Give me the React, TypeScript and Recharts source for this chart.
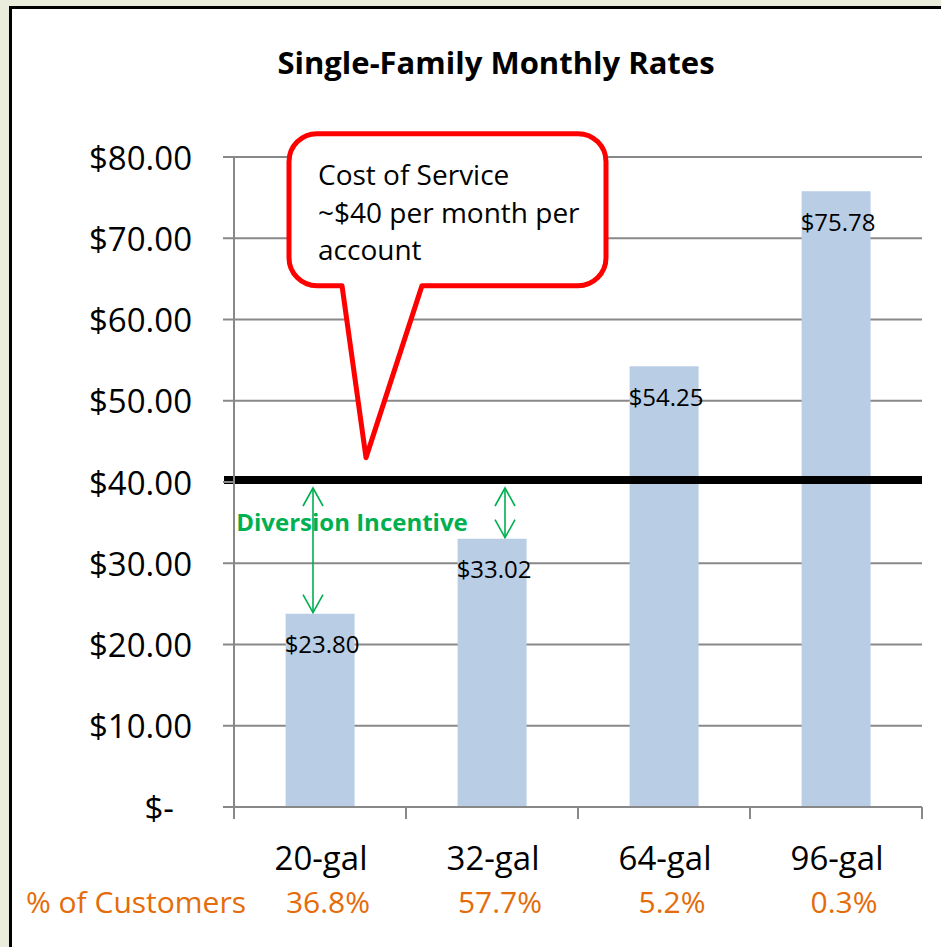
import React from 'react';
import { BarChart, Bar, XAxis, YAxis, CartesianGrid, ReferenceLine, ReferenceDot, LabelList } from 'recharts';

const categories = ['20-gal', '32-gal', '64-gal', '96-gal'];
const rates = [23.8, 33.02, 54.25, 75.78];
const rateLabels = ['$23.80', '$33.02', '$54.25', '$75.78'];
const customerShare = ['36.8%', '57.7%', '5.2%', '0.3%'];
const yTicks = [0, 10, 20, 30, 40, 50, 60, 70, 80];
const yTickLabels = ['$-', '$10.00', '$20.00', '$30.00', '$40.00', '$50.00', '$60.00', '$70.00', '$80.00'];
const costOfService = 40;
const calloutTipValue = 43;
const incentiveLabelValue = 35.2;
const calloutLines = ['Cost of Service', '~$40 per month per', 'account'];

const data = categories.map((c, i) => ({ name: c, rate: rates[i], label: rateLabels[i], share: customerShare[i] }));

const FONT = '"Open Sans", sans-serif';
const GRID = '#888888';
const GREEN = '#00B050';
const ORANGE = '#E46C0A';

const YTick = (p: any) => {
  const idx = yTicks.indexOf(p.payload.value);
  const txt = yTickLabels[idx];
  const dx = p.payload.value === 0 ? -18 : 0;
  return (
    <text x={p.x + dx} y={p.y} textAnchor="end" dominantBaseline="central" fontSize={33} fontFamily={FONT} fill="#000">
      {txt}
    </text>
  );
};

const XTick = (p: any) => {
  const i = p.payload.index ?? categories.indexOf(p.payload.value);
  const half = p.payload.offset ? p.payload.offset : p.width / categories.length / 2;
  const x = p.x;
  const y = p.y;
  return (
    <g>
      <line x1={x - half} y1={y} x2={x - half} y2={y + 12} stroke={GRID} strokeWidth={2} />
      {i === categories.length - 1 && <line x1={x + half} y1={y} x2={x + half} y2={y + 12} stroke={GRID} strokeWidth={2} />}
      <text x={x + 1} y={y + 50} textAnchor="middle" dominantBaseline="central" fontSize={33} fontFamily={FONT} fill="#000">
        {p.payload.value}
      </text>
      <text x={x + 8} y={y + 94} textAnchor="middle" dominantBaseline="central" fontSize={30} fontFamily={FONT} fill={ORANGE}>
        {customerShare[i]}
      </text>
      {i === 0 && (
        <text x={x - half + 12} y={y + 94} textAnchor="end" dominantBaseline="central" fontSize={30} fontFamily={FONT} fill={ORANGE}>
          % of Customers
        </text>
      )}
    </g>
  );
};

const BarValue = (p: any) => {
  const { x, y, width, index } = p;
  return (
    <text x={x + width / 2 + 2} y={y + 30} textAnchor="middle" dominantBaseline="central" fontSize={24} fontFamily={FONT} fill="#000">
      {rateLabels[index]}
    </text>
  );
};

const arrowNudge = [-7, 13];

const makeArrow = (dx: number) => (p: any) => {
  const x = p.x1 + dx;
  const yTop = Math.min(p.y1, p.y2) + 6;
  const yBot = Math.max(p.y1, p.y2) - 1;
  return (
    <g stroke={GREEN} strokeWidth={1.6} fill="none">
      <line x1={x} y1={yTop} x2={x} y2={yBot} />
      <polyline points={`${x - 10},${yTop + 18} ${x},${yTop} ${x + 10},${yTop + 18}`} />
      <polyline points={`${x - 10},${yBot - 18} ${x},${yBot} ${x + 10},${yBot - 18}`} />
    </g>
  );
};

const CostLine = (p: any) => (
  <line x1={p.x1 - 10} y1={p.y1 - 2} x2={p.x2} y2={p.y2 - 2} stroke="#000" strokeWidth={8} />
);

const Callout = (p: any) => {
  const tx = p.cx + 46;
  const ty = p.cy;
  const L = tx - 77, R = tx + 240, T = ty - 324, B = ty - 172, r = 28;
  const xL = tx - 24, xR = tx + 56;
  const d = `M ${L + r} ${T} H ${R - r} A ${r} ${r} 0 0 1 ${R} ${T + r} V ${B - r} A ${r} ${r} 0 0 1 ${R - r} ${B} H ${xR} L ${tx} ${ty} L ${xL} ${B} H ${L + r} A ${r} ${r} 0 0 1 ${L} ${B - r} V ${T + r} A ${r} ${r} 0 0 1 ${L + r} ${T} Z`;
  const offs = [40, 78, 115];
  return (
    <g>
      <path d={d} fill="#fff" stroke="#FF0000" strokeWidth={5} strokeLinejoin="round" />
      {calloutLines.map((s, i) => (
        <text key={i} x={L + 29} y={T + offs[i]} dominantBaseline="central" fontSize={28} fontFamily={FONT} fill="#000">
          {s}
        </text>
      ))}
    </g>
  );
};

const IncentiveText = (p: any) => (
  <text x={p.cx + 32} y={p.cy} textAnchor="middle" dominantBaseline="central" fontSize={24} fontWeight="bold" fontFamily={FONT} fill={GREEN}>
    Diversion Incentive
  </text>
);

export default function App() {
  return (
    <div style={{ position: 'absolute', left: 0, top: 0, width: 941, height: 947, background: '#EBEDDC', overflow: 'hidden' }}>
      <div style={{ position: 'absolute', left: 9, top: 6, width: 1000, height: 1000, border: '3px solid #000', background: '#fff' }} />
      <div style={{ position: 'absolute', left: 0, top: 0 }}>
        <div style={{ position: 'absolute', left: 0, top: 42, width: 992, textAlign: 'center', fontFamily: FONT, fontWeight: 'bold', fontSize: 31, lineHeight: '40px', color: '#000' }}>
          Single-Family Monthly Rates
        </div>
        <BarChart width={941} height={947} data={data} margin={{ top: 157, right: 19, left: 114, bottom: 40 }} barCategoryGap="30%">
          <CartesianGrid horizontal vertical={false} stroke={GRID} strokeWidth={2} />
          <XAxis dataKey="name" height={100} axisLine={{ stroke: GRID, strokeWidth: 2 }} tickLine={false} tickSize={0} tickMargin={0} tick={<XTick />} interval={0} />
          <YAxis width={120} domain={[0, 80]} ticks={yTicks} interval={0} axisLine={{ stroke: GRID, strokeWidth: 2 }} tickLine={{ stroke: GRID, strokeWidth: 2 }} tickSize={11} tickMargin={31} tick={<YTick />} />
          <Bar dataKey="rate" fill="#B9CDE5" isAnimationActive={false}>
            <LabelList dataKey="label" content={<BarValue />} />
          </Bar>
          <ReferenceLine segment={[{ x: categories[0], y: costOfService }, { x: categories[0], y: rates[0] }]} shape={makeArrow(arrowNudge[0])} />
          <ReferenceLine segment={[{ x: categories[1], y: costOfService }, { x: categories[1], y: rates[1] }]} shape={makeArrow(arrowNudge[1])} />
          <ReferenceLine y={costOfService} shape={CostLine} />
          <ReferenceDot x={categories[0]} y={incentiveLabelValue} r={0} shape={IncentiveText} />
          <ReferenceDot x={categories[0]} y={calloutTipValue} r={0} shape={Callout} />
        </BarChart>
      </div>
    </div>
  );
}
